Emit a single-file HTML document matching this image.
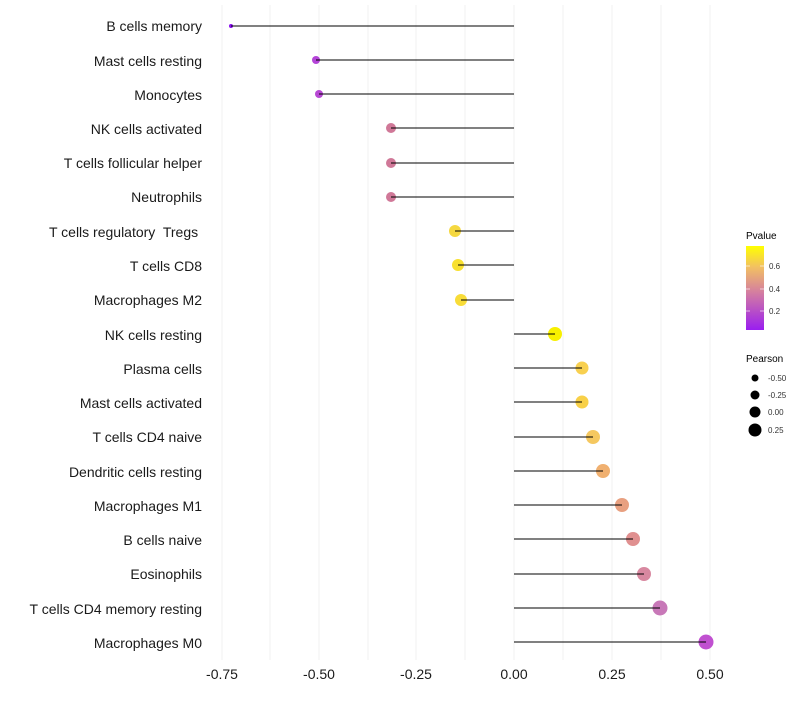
<!DOCTYPE html>
<html><head><style>body{margin:0;background:#fff}</style></head><body>
<svg width="800" height="700" xmlns="http://www.w3.org/2000/svg" font-family="Liberation Sans, sans-serif">
<defs><linearGradient id="g" x1="0" y1="1" x2="0" y2="0"><stop offset="0" stop-color="#9a1ef0"/><stop offset="0.45" stop-color="#d47ea0"/><stop offset="0.75" stop-color="#f2c062"/><stop offset="1" stop-color="#ffff00"/></linearGradient></defs>
<g stroke="#f2f2f2" stroke-width="1">
<line x1="222" y1="5" x2="222" y2="660"/><line x1="270" y1="5" x2="270" y2="660"/><line x1="319" y1="5" x2="319" y2="660"/><line x1="368" y1="5" x2="368" y2="660"/><line x1="416" y1="5" x2="416" y2="660"/><line x1="465" y1="5" x2="465" y2="660"/><line x1="514" y1="5" x2="514" y2="660"/><line x1="563" y1="5" x2="563" y2="660"/><line x1="612" y1="5" x2="612" y2="660"/><line x1="661" y1="5" x2="661" y2="660"/><line x1="710" y1="5" x2="710" y2="660"/>
</g>
<g font-size="14" fill="#1a1a1a" text-anchor="end">
<text x="202" y="31">B cells memory</text><text x="202" y="66">Mast cells resting</text><text x="202" y="100">Monocytes</text><text x="202" y="134">NK cells activated</text><text x="202" y="168">T cells follicular helper</text><text x="202" y="202">Neutrophils</text><text x="202" y="237">T cells regulatory&#160; Tregs&#160;</text><text x="202" y="271">T cells CD8</text><text x="202" y="305">Macrophages M2</text><text x="202" y="340">NK cells resting</text><text x="202" y="374">Plasma cells</text><text x="202" y="408">Mast cells activated</text><text x="202" y="442">T cells CD4 naive</text><text x="202" y="477">Dendritic cells resting</text><text x="202" y="511">Macrophages M1</text><text x="202" y="545">B cells naive</text><text x="202" y="579">Eosinophils</text><text x="202" y="614">T cells CD4 memory resting</text><text x="202" y="648">Macrophages M0</text>
</g>
<g>
<circle cx="231" cy="26" r="2" fill="#8a10f0"/><circle cx="316" cy="60" r="4" fill="#b444d8"/><circle cx="319" cy="94" r="4" fill="#b848d4"/><circle cx="391" cy="128" r="5" fill="#d07898"/><circle cx="391" cy="163" r="5" fill="#d07898"/><circle cx="391" cy="197" r="5" fill="#d07898"/><circle cx="455" cy="231" r="6" fill="#f5d840"/><circle cx="458" cy="265" r="6" fill="#f8e030"/><circle cx="461" cy="300" r="6" fill="#f8dc38"/><circle cx="555" cy="334" r="7" fill="#f8f000"/><circle cx="582" cy="368" r="6.5" fill="#f8d050"/><circle cx="582" cy="402" r="6.5" fill="#f8d048"/><circle cx="593" cy="437" r="7" fill="#f5c860"/><circle cx="603" cy="471" r="7" fill="#f0b070"/><circle cx="622" cy="505" r="7" fill="#e8a080"/><circle cx="633" cy="539" r="7" fill="#e09090"/><circle cx="644" cy="574" r="7" fill="#d888a0"/><circle cx="660" cy="608" r="7.5" fill="#c878b8"/><circle cx="706" cy="642" r="7.5" fill="#c050d0"/>
</g>
<g stroke="#000" stroke-width="1.1">
<line x1="231" y1="26" x2="514" y2="26"/><line x1="316" y1="60" x2="514" y2="60"/><line x1="319" y1="94" x2="514" y2="94"/><line x1="391" y1="128" x2="514" y2="128"/><line x1="391" y1="163" x2="514" y2="163"/><line x1="391" y1="197" x2="514" y2="197"/><line x1="455" y1="231" x2="514" y2="231"/><line x1="458" y1="265" x2="514" y2="265"/><line x1="461" y1="300" x2="514" y2="300"/><line x1="514" y1="334" x2="555" y2="334"/><line x1="514" y1="368" x2="582" y2="368"/><line x1="514" y1="402" x2="582" y2="402"/><line x1="514" y1="437" x2="593" y2="437"/><line x1="514" y1="471" x2="603" y2="471"/><line x1="514" y1="505" x2="622" y2="505"/><line x1="514" y1="539" x2="633" y2="539"/><line x1="514" y1="574" x2="644" y2="574"/><line x1="514" y1="608" x2="660" y2="608"/><line x1="514" y1="642" x2="706" y2="642"/>
</g>
<g font-size="14" fill="#1a1a1a" text-anchor="middle">
<text x="222" y="679">-0.75</text><text x="319" y="679">-0.50</text><text x="416" y="679">-0.25</text><text x="514" y="679">0.00</text><text x="612" y="679">0.25</text><text x="710" y="679">0.50</text>
</g>
<text x="746" y="239" font-size="10">Pvalue</text>
<rect x="746" y="246" width="18" height="84" fill="url(#g)"/>
<g stroke="#fff" stroke-opacity="0.6"><line x1="746" y1="266" x2="750" y2="266"/><line x1="760" y1="266" x2="764" y2="266"/><line x1="746" y1="289" x2="750" y2="289"/><line x1="760" y1="289" x2="764" y2="289"/><line x1="746" y1="311" x2="750" y2="311"/><line x1="760" y1="311" x2="764" y2="311"/></g>
<g font-size="8" fill="#333"><text x="769" y="269">0.6</text><text x="769" y="292">0.4</text><text x="769" y="314">0.2</text></g>
<text x="746" y="362" font-size="10">Pearson</text>
<circle cx="755" cy="378" r="3.5"/><circle cx="755" cy="395" r="4.5"/><circle cx="755" cy="412" r="5.5"/><circle cx="755" cy="430" r="6.5"/>
<g font-size="8" fill="#333"><text x="768" y="381">-0.50</text><text x="768" y="398">-0.25</text><text x="768" y="415">0.00</text><text x="768" y="433">0.25</text></g>
</svg>
</body></html>
